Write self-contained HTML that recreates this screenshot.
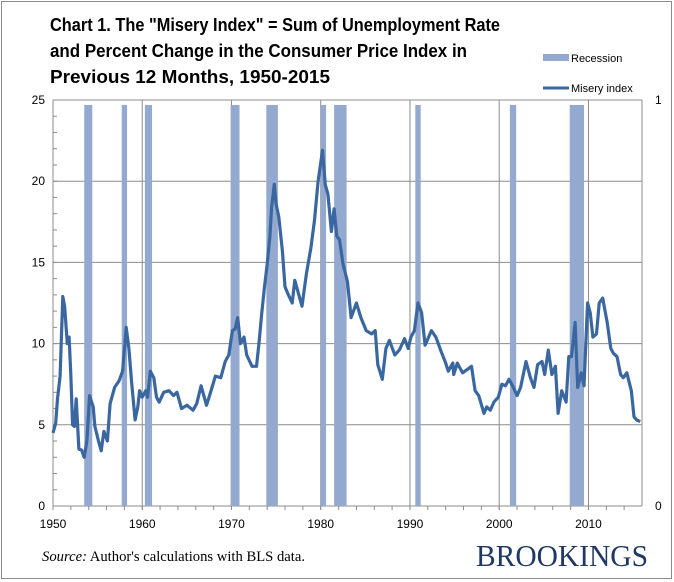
<!DOCTYPE html>
<html><head><meta charset="utf-8"><style>
body{margin:0;background:#fff;}
svg{display:block;}
</style></head><body>
<svg id="chart" width="674" height="582" xmlns="http://www.w3.org/2000/svg" style="font-family:'Liberation Sans',sans-serif">
<rect x="1.5" y="1.5" width="670" height="577" fill="#fff" stroke="#8c8c8c" stroke-width="1"/>
<g font-weight="bold" font-size="18" fill="#000">
<text x="50" y="31" textLength="450" lengthAdjust="spacingAndGlyphs">Chart 1. The "Misery Index" = Sum of Unemployment Rate</text>
<text x="50" y="57" textLength="417" lengthAdjust="spacingAndGlyphs">and Percent Change in the Consumer Price Index in</text>
<text x="50" y="83" textLength="280" lengthAdjust="spacingAndGlyphs">Previous 12 Months, 1950-2015</text>
</g>
<g id="grid"></g>
<g id="recessions"></g>
<g id="axes"></g>
<path id="line" fill="none" stroke="#3b67a1" stroke-width="3.2" stroke-linejoin="round"/>
<g>
<g>
<rect x="543" y="54" width="26" height="7" fill="#94a9cf"/>
<text x="571" y="62" font-size="11" fill="#000">Recession</text></g>
<g>
<line x1="543" y1="88" x2="569" y2="88" stroke="#3b67a1" stroke-width="3"/>
<text x="571" y="92" font-size="11" fill="#000">Misery index</text></g>
</g>
<text x="42" y="561" style="font-family:'Liberation Serif',serif" font-size="14.5" textLength="263" lengthAdjust="spacingAndGlyphs"><tspan font-style="italic">Source:</tspan> Author's calculations with BLS data.</text>
<text x="476" y="566" style="font-family:'Liberation Serif',serif" font-size="31" fill="#1f3864" textLength="172" lengthAdjust="spacingAndGlyphs">BROOKINGS</text>
</svg>
<script>
const years=[1950.0,1950.3,1950.5,1950.8,1951.1,1951.3,1951.6,1951.8,1952.0,1952.2,1952.4,1952.6,1952.9,1953.2,1953.5,1953.8,1954.1,1954.5,1954.7,1955.1,1955.4,1955.7,1956.1,1956.4,1956.9,1957.4,1957.8,1958.2,1958.5,1958.8,1959.2,1959.5,1959.7,1960.0,1960.4,1960.6,1960.9,1961.3,1961.6,1961.9,1962.4,1963.0,1963.5,1963.9,1964.4,1965.0,1965.7,1966.1,1966.6,1967.2,1967.6,1968.2,1968.8,1969.3,1969.7,1970.1,1970.4,1970.7,1971.0,1971.4,1971.7,1972.3,1972.8,1973.1,1973.4,1973.7,1974.0,1974.3,1974.5,1974.8,1975.0,1975.3,1975.7,1976.0,1976.3,1976.8,1977.1,1977.5,1977.9,1978.4,1978.9,1979.3,1979.7,1980.2,1980.5,1980.8,1981.2,1981.5,1981.8,1982.1,1982.5,1983.0,1983.4,1984.0,1984.5,1985.1,1985.7,1986.1,1986.4,1986.9,1987.3,1987.7,1988.3,1988.8,1989.4,1989.8,1990.1,1990.5,1990.9,1991.3,1991.7,1992.4,1992.9,1993.5,1994.0,1994.3,1994.8,1994.9,1995.3,1995.9,1996.4,1996.9,1997.3,1997.7,1998.3,1998.6,1999.0,1999.4,1999.9,2000.3,2000.7,2001.1,2001.5,2002.0,2002.4,2003.0,2003.5,2003.9,2004.3,2004.8,2005.1,2005.5,2005.9,2006.3,2006.6,2007.0,2007.5,2007.8,2008.1,2008.5,2008.8,2009.2,2009.5,2009.9,2010.2,2010.5,2010.9,2011.2,2011.6,2012.1,2012.5,2012.8,2013.2,2013.6,2013.9,2014.3,2014.8,2015.1,2015.4,2015.8];
const misery=[4.5,5.1,6.6,8.0,12.9,12.3,10.0,10.4,8.1,5.0,4.9,6.6,3.5,3.45,3.0,4.0,6.8,6.1,4.9,4.0,3.4,4.6,4.0,6.3,7.3,7.7,8.3,11.0,9.7,7.7,5.3,6.1,7.1,6.7,7.1,6.7,8.3,7.9,6.7,6.4,7.0,7.1,6.8,7.0,6.0,6.2,5.9,6.3,7.4,6.2,6.9,8.0,7.9,8.9,9.3,10.8,10.9,11.6,10.0,10.4,9.3,8.6,8.6,10.1,11.9,13.5,14.9,16.6,18.4,19.8,18.6,17.8,15.7,13.5,13.1,12.5,13.9,13.1,12.3,14.3,15.9,17.6,20.0,21.9,19.8,19.2,16.9,18.3,16.6,16.4,14.9,13.8,11.6,12.5,11.6,10.8,10.6,10.8,8.7,7.8,9.7,10.2,9.3,9.6,10.3,9.7,10.4,10.8,12.5,11.9,9.9,10.8,10.4,9.5,8.8,8.3,8.8,8.1,8.8,8.2,8.4,8.6,7.1,6.8,5.7,6.1,5.9,6.4,6.7,7.5,7.4,7.8,7.4,6.8,7.3,8.9,7.9,7.3,8.7,8.9,8.1,9.6,8.1,8.6,5.7,7.1,6.4,9.2,9.2,11.3,7.3,8.2,7.4,12.5,11.9,10.4,10.6,12.5,12.8,11.3,9.7,9.4,9.2,8.1,7.9,8.2,7.1,5.5,5.3,5.2];
const recStart=[1953.5,1957.7,1960.3,1969.9,1973.9,1980.0,1981.5,1990.6,2001.2,2007.9];
const recEnd=[1954.4,1958.3,1961.1,1970.9,1975.2,1980.6,1982.9,1991.2,2001.9,2009.5];
const yTicks=[0,5,10,15,20,25];
const xTicks=[1950,1960,1970,1980,1990,2000,2010];

const L=53,R=642,T=100,B=506,X0=1950,X1=2016,YMAX=25;
const sx=y=>L+(y-X0)/(X1-X0)*(R-L);
const sy=v=>B-v/YMAX*(B-T);
const NS='http://www.w3.org/2000/svg';
function mk(tag,attrs,parent,txt){const e=document.createElementNS(NS,tag);for(const k in attrs)e.setAttribute(k,attrs[k]);if(txt!==undefined)e.textContent=txt;parent.appendChild(e);return e;}
const grid=document.getElementById('grid'),axes=document.getElementById('axes'),rec=document.getElementById('recessions');
yTicks.forEach(v=>{
  const g=mk('line',{x1:L,x2:R,y1:sy(v),y2:sy(v),stroke:'#8c8c8c','stroke-width':1},grid);
  
  
  const t=mk('text',{x:L-8,y:sy(v)+4,'font-size':12,'text-anchor':'end',fill:'#000'},axes,String(v));
  
  
});
xTicks.forEach(y=>{
  const g=mk('line',{x1:sx(y),x2:sx(y),y1:T,y2:B+4,stroke:'#8c8c8c','stroke-width':1},grid);
  
  
  const t=mk('text',{x:sx(y),y:B+22,'font-size':12,'text-anchor':'middle',fill:'#000'},axes,String(y));
  
  
});
for(let y=1952;y<X1;y+=2){mk('line',{x1:sx(y),x2:sx(y),y1:B,y2:B+4,stroke:'#8c8c8c'},axes);}
for(let v=1;v<YMAX;v++){mk('line',{x1:L,x2:L+4,y1:sy(v),y2:sy(v),stroke:'#8c8c8c'},axes);}
mk('line',{x1:R,x2:R,y1:T,y2:B,stroke:'#8c8c8c'},axes);
mk('line',{x1:L,x2:L,y1:T,y2:B,stroke:'#8c8c8c'},axes);
const r1=mk('text',{x:655,y:T+4,'font-size':12,fill:'#000'},axes,'1');


const r0=mk('text',{x:655,y:B+4,'font-size':12,fill:'#000'},axes,'0');


recStart.forEach((s,i)=>{
  const b=mk('rect',{x:sx(s),y:105,width:sx(recEnd[i])-sx(s),height:B-105,fill:'#94a9cf'},rec);
  
  
});
document.getElementById('line').setAttribute('d',years.map((y,i)=>(i?'L':'M')+sx(y).toFixed(1)+','+sy(misery[i]).toFixed(1)).join(''));
</script>
</body></html>
